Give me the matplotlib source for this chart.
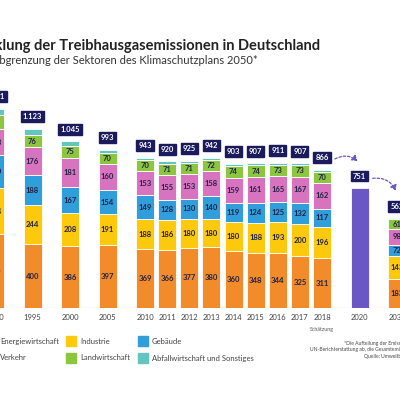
import matplotlib
matplotlib.use("Agg")
import matplotlib.pyplot as plt
from matplotlib.patches import Rectangle, FancyArrowPatch

plt.rcParams["font.family"] = ["Lato", "DejaVu Sans"]

years = ["1990", "1995", "2000", "2005", "2010", "2011", "2012", "2013", "2014",
         "2015", "2016", "2017", "2018", "2020", "2030"]
totals = [1251, 1123, 1045, 993, 943, 920, 925, 942, 903, 907, 911, 907, 866, 751, 562]
energie = [466, 400, 386, 397, 369, 366, 377, 380, 360, 348, 344, 325, 311, 0, 183]
industrie = [284, 244, 208, 191, 188, 186, 180, 180, 180, 188, 193, 200, 196, 0, 143]
gebaeude = [210, 188, 167, 154, 149, 128, 130, 140, 119, 124, 125, 132, 117, 0, 72]
verkehr = [163, 176, 181, 160, 153, 155, 153, 158, 159, 161, 165, 167, 162, 0, 98]
landwirtschaft = [90, 76, 75, 70, 70, 71, 71, 72, 74, 74, 73, 73, 70, 0, 61]
abfall = [38, 39, 28, 21, 14, 14, 14, 12, 11, 12, 11, 10, 10, 0, 5]
sectors = ["Energiewirtschaft", "Industrie", "Gebäude", "Verkehr", "Landwirtschaft",
           "Abfallwirtschaft und Sonstiges"]
colors = ["#f28b2a", "#fcc90d", "#2f9edb", "#d873c0", "#8cc63f", "#62c6bf"]
purple = "#6a56c4"
navy = "#1b1a5c"

# slot positions: 5-year steps are wide, yearly steps narrow
pos = [0, 1, 2, 3, 4] + [4 + 0.59 * i for i in range(1, 9)] + [9.72, 10.72]
width = 0.48

fig = plt.figure(figsize=(4, 4), dpi=100)
ax = fig.add_axes([0, 0.23, 1, 0.62])
ax.set_xlim(0.133, 10.8)
ax.set_ylim(0, 1556)
ax.axis("off")

series = [energie, industrie, gebaeude, verkehr, landwirtschaft, abfall]
bottom = [0] * len(years)
for k, vals in enumerate(series):
    ax.bar(pos, vals, width, bottom=bottom, color=colors[k], edgecolor="white", linewidth=0.6)
    if k < 5:
        for i, v in enumerate(vals):
            if v:
                ax.text(pos[i], bottom[i] + v / 2, str(v), ha="center", va="center",
                        fontsize=5.5, fontweight="bold", color="#222244")
    bottom = [b + v for b, v in zip(bottom, vals)]

ax.bar(pos[13], totals[13], width, color=purple, edgecolor="white", linewidth=0.6)

for i, t in enumerate(totals):
    lab = f"{t:,}".replace(",", ".")
    ax.text(pos[i], t + 55, lab, ha="center", va="bottom", fontsize=5.5, fontweight="bold",
            color="white", bbox=dict(boxstyle="square,pad=0.25", fc=navy, ec=navy))
    ax.text(pos[i], -40, years[i], ha="center", va="top", fontsize=5.5, color="#444444")
ax.text(pos[12], -120, "Schätzung", ha="center", va="top", fontsize=3.8, color="#555555")
ax.axhline(0, color="#999999", lw=0.8)

for a, b in [(12, 13), (13, 14)]:
    arr = FancyArrowPatch((pos[a] + 0.28, totals[a] + 60), (pos[b], totals[b] + 160),
                          connectionstyle="arc3,rad=-0.4", arrowstyle="-|>,head_width=2,head_length=3",
                          linestyle=(0, (2, 1.5)), color=purple, lw=0.9)
    ax.add_patch(arr)

fig.text(0.80, 0.885, "Entwicklung der Treibhausgasemissionen in Deutschland", ha="right",
         va="center", fontsize=10.5, fontweight="bold", color="#222222")
fig.text(0.645, 0.85, "in Abgrenzung der Sektoren des Klimaschutzplans 2050*", ha="right",
         va="center", fontsize=8, color="#333333")

leg_x = [-0.035, 0.165, 0.345]
leg_y = [0.147, 0.105]
for k, name in enumerate(sectors):
    x = leg_x[k % 3]
    y = leg_y[0] if k < 3 else leg_y[1]
    fig.patches.append(Rectangle((x, y - 0.013), 0.026, 0.026, transform=fig.transFigure,
                                 color=colors[k]))
    fig.text(x + 0.035, y, name, ha="left", va="center", fontsize=5.5, color="#444444")

fig.text(0.86, 0.138, "*Die Aufteilung der Emissionen weicht von der", fontsize=3.6, color="#444444")
fig.text(0.775, 0.122, "UN-Berichterstattung ab, die Gesamtemissionen sind identisch.", fontsize=3.6,
         color="#444444")
fig.text(0.91, 0.106, "Quelle: Umweltbundesamt", fontsize=3.6, color="#444444")

fig.savefig("out.png", dpi=100)
